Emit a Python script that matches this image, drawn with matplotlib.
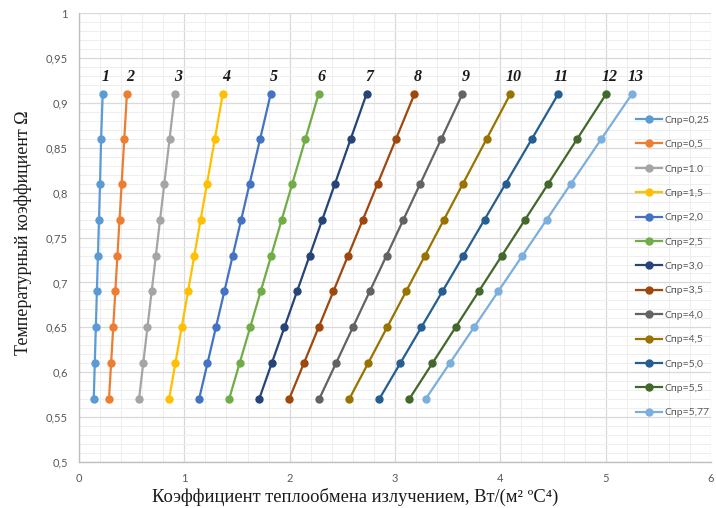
import matplotlib
matplotlib.use("Agg")
import matplotlib.pyplot as plt
from matplotlib.ticker import MultipleLocator, FuncFormatter

# ---- data ----
omega = [0.57, 0.61, 0.65, 0.69, 0.73, 0.77, 0.81, 0.86, 0.91]

series_labels = ["Спр=0,25", "Спр=0,5", "Спр=1.0", "Спр=1,5", "Спр=2,0", "Спр=2,5",
                 "Спр=3,0", "Спр=3,5", "Спр=4,0", "Спр=4,5", "Спр=5,0", "Спр=5,5",
                 "Спр=5,77"]
curve_numbers = ["1", "2", "3", "4", "5", "6", "7", "8", "9", "10", "11", "12", "13"]

x_c025 = [0.14, 0.15, 0.16, 0.17, 0.18, 0.19, 0.20, 0.21, 0.225]
x_c05 = [0.285, 0.305, 0.325, 0.345, 0.365, 0.385, 0.405, 0.43, 0.455]
x_c10 = [0.57, 0.61, 0.65, 0.69, 0.73, 0.77, 0.81, 0.86, 0.91]
x_c15 = [0.855, 0.915, 0.975, 1.035, 1.095, 1.155, 1.215, 1.29, 1.365]
x_c20 = [1.14, 1.22, 1.30, 1.38, 1.46, 1.54, 1.62, 1.72, 1.82]
x_c25 = [1.425, 1.525, 1.625, 1.725, 1.825, 1.925, 2.025, 2.15, 2.275]
x_c30 = [1.71, 1.83, 1.95, 2.07, 2.19, 2.31, 2.43, 2.58, 2.73]
x_c35 = [1.995, 2.135, 2.275, 2.415, 2.555, 2.695, 2.835, 3.01, 3.185]
x_c40 = [2.28, 2.44, 2.60, 2.76, 2.92, 3.08, 3.24, 3.44, 3.64]
x_c45 = [2.565, 2.745, 2.925, 3.105, 3.285, 3.465, 3.645, 3.87, 4.095]
x_c50 = [2.85, 3.05, 3.25, 3.45, 3.65, 3.85, 4.05, 4.30, 4.55]
x_c55 = [3.135, 3.355, 3.575, 3.795, 4.015, 4.235, 4.455, 4.73, 5.005]
x_c577 = [3.29, 3.52, 3.75, 3.98, 4.21, 4.44, 4.67, 4.96, 5.25]

series_x = [x_c025, x_c05, x_c10, x_c15, x_c20, x_c25, x_c30, x_c35, x_c40,
            x_c45, x_c50, x_c55, x_c577]

colors = ["#5B9BD5", "#ED7D31", "#A5A5A5", "#FFC000", "#4472C4", "#70AD47",
          "#264478", "#9E480E", "#636363", "#997300", "#255E91", "#43682B",
          "#7CAFDD"]

# ---- figure ----
fig = plt.figure(figsize=(7.16, 5.08), dpi=100)
ax = fig.add_axes([0.1103, 0.0906, 0.8827, 0.8834])

for xs, lab, col in zip(series_x, series_labels, colors):
    ax.plot(xs, omega, color=col, lw=1.6, marker="o", ms=5, label=lab, zorder=3)

# curve numbers above the top points
for xs, num in zip(series_x, curve_numbers):
    ax.text(xs[-1] + 0.03, omega[-1] + 0.01, num, ha="center", va="bottom",
            fontsize=11.5, fontweight="bold", fontstyle="italic",
            family=["Liberation Serif", "DejaVu Serif"], color="#1a1a1a", zorder=4)

ax.set_xlim(0, 6)
ax.set_ylim(0.5, 1.0)
ax.xaxis.set_major_locator(MultipleLocator(1))
ax.xaxis.set_minor_locator(MultipleLocator(0.2))
ax.yaxis.set_major_locator(MultipleLocator(0.05))
ax.yaxis.set_minor_locator(MultipleLocator(0.01))

def fmt(v, pos):
    s = ("%.2f" % v).rstrip("0").rstrip(".")
    return s.replace(".", ",")

ax.xaxis.set_major_formatter(FuncFormatter(fmt))
ax.yaxis.set_major_formatter(FuncFormatter(fmt))

ax.grid(which="major", color="#d9d9d9", lw=0.9, zorder=0)
ax.grid(which="minor", color="#eeeeee", lw=0.7, zorder=0)
ax.set_axisbelow(True)

for s in ["top", "right"]:
    ax.spines[s].set_visible(False)
for s in ["left", "bottom"]:
    ax.spines[s].set_color("#bfbfbf")
    ax.spines[s].set_linewidth(1.0)

ax.tick_params(which="both", length=0)
ax.tick_params(axis="both", labelsize=8, labelcolor="#595959", pad=8)
for t in ax.get_xticklabels() + ax.get_yticklabels():
    t.set_family(["Lato", "DejaVu Sans"])

ax.set_xlabel("Коэффициент теплообмена излучением, Вт/(м² ºС⁴)",
              family=["Liberation Serif", "DejaVu Serif"], fontsize=13.3,
              color="#1a1a1a")
ax.xaxis.set_label_coords(0.437, -0.058)
ax.set_ylabel("Температурный коэффициент Ω",
              family=["Liberation Serif", "DejaVu Serif"], fontsize=13,
              color="#1a1a1a")
ax.yaxis.set_label_coords(-0.074, 0.51)

leg = fig.legend(loc="upper left", bbox_to_anchor=(0.882, 0.781),
                 frameon=False, handlelength=2.5,
                 labelspacing=1.45, handletextpad=0.3, borderaxespad=0,
                 prop={"family": ["Lato", "DejaVu Sans"], "size": 7.5})
for t in leg.get_texts():
    t.set_color("#595959")

fig.savefig("out.png", dpi=100)
